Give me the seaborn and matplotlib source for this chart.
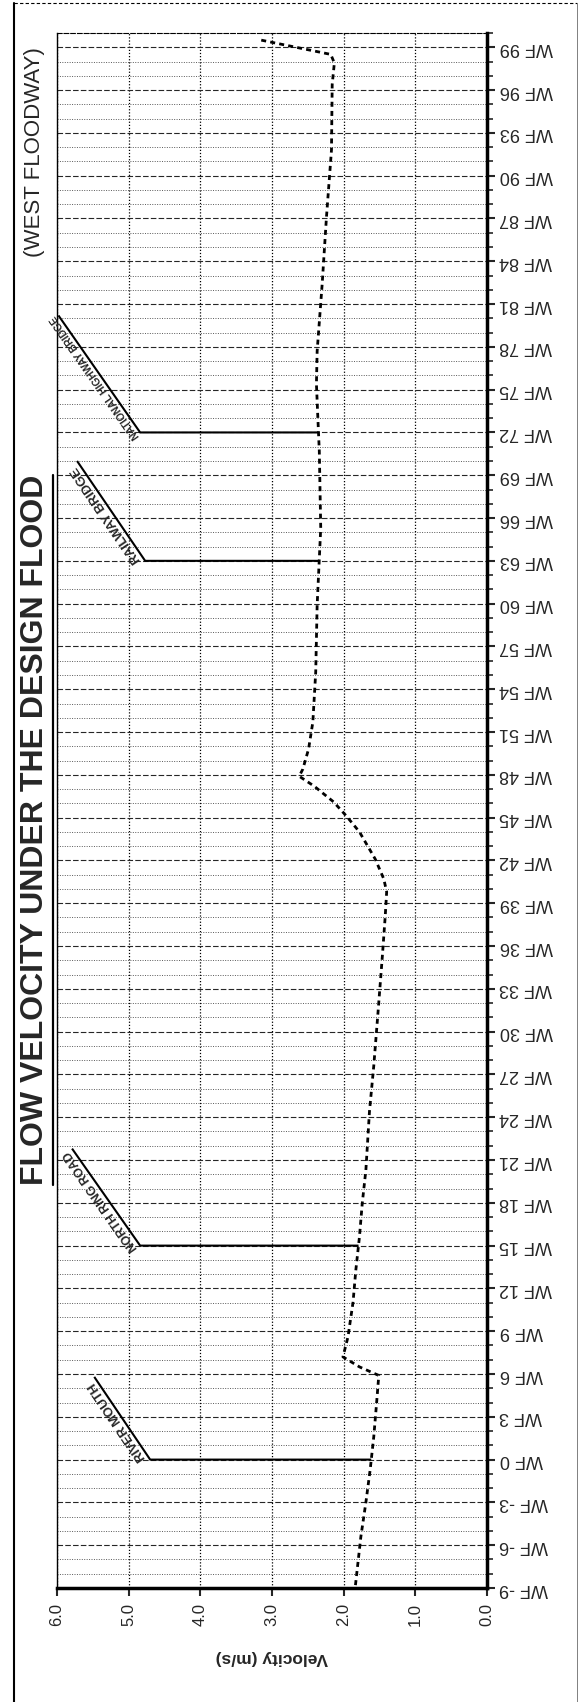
import matplotlib
matplotlib.use('Agg')
import matplotlib.pyplot as plt
from matplotlib.lines import Line2D
from matplotlib.ticker import MultipleLocator
import numpy as np
import pandas as pd
import seaborn as sns

# velocity profile along the west floodway (station -> m/s)
stations = [99.5, 98.5, 97.9, 96.4, 91.8, 87.1, 82.4, 77.7, 75.4, 73.0, 70.7, 65.3,
            59.9, 55.2, 51.7, 49.8, 48.4, 47.9, 47.2, 46.1, 45.1, 44.0, 42.1, 40.7,
            39.8, 38.1, 35.3, 31.4, 27.6, 24.4, 20.3, 18.0, 15.6, 13.3, 11.0, 8.6,
            7.2, 6.5, 5.9, 4.0, 1.6, -0.7, -3.0, -5.4, -7.2, -9.0]
velocity = [3.15, 2.18, 2.13, 2.16, 2.17, 2.24, 2.30, 2.37, 2.38, 2.36, 2.34, 2.32,
            2.37, 2.39, 2.43, 2.49, 2.57, 2.62, 2.41, 2.14, 1.96, 1.78, 1.56, 1.44,
            1.40, 1.42, 1.46, 1.52, 1.58, 1.64, 1.69, 1.74, 1.78, 1.83, 1.87, 1.94,
            2.01, 1.78, 1.51, 1.54, 1.58, 1.63, 1.69, 1.76, 1.80, 1.84]

bridge_names = ['RIVER MOUTH', 'NORTH RING ROAD', 'RAILWAY BRIDGE', 'NATIONAL HIGHWAY BRIDGE']
bridge_stations = [0, 15, 63, 72]

tick_stations = list(range(-9, 100, 3))
tick_labels = [f'WF {s}' for s in tick_stations]
vel_ticks = [0, 1, 2, 3, 4, 5, 6]
vel_labels = ['0.0', '1.0', '2.0', '3.0', '4.0', '5.0', '6.0']

# leader line geometry for the bridge call-outs (velocity of kink, length along axes)
lead_v = [4.70, 4.84, 4.77, 4.84]
lead_dv = [0.78, 0.95, 0.95, 1.14]
lead_ds = [5.8, 6.8, 7.0, 8.2]
lead_size = [9.5, 9, 9.5, 7.5]

sns.set_style('white')
plt.rcParams['font.family'] = ['Liberation Sans', 'DejaVu Sans']

W, H = 579, 1702
fig = plt.figure(figsize=(W / 100, H / 100), dpi=100)
ax = fig.add_axes([57 / W, 1 - 1588 / H, 430 / W, 1555 / H])

df = pd.DataFrame({'station': stations, 'velocity': velocity})
sns.lineplot(data=df, x='velocity', y='station', sort=False, estimator=None,
             color='black', lw=2.0, ax=ax)
ax.lines[0].set_linestyle((0, (1.8, 1.5)))

ax.set_xlim(6, 0)
ax.set_ylim(-9, 100)

ax.set_xticks(vel_ticks)
ax.set_xticklabels(vel_labels, rotation=90, fontsize=12)
ax.yaxis.tick_right()
ax.set_yticks(tick_stations)
ax.set_yticklabels(tick_labels, rotation=180, fontsize=13, va='center')
ax.yaxis.set_minor_locator(MultipleLocator(1))
ax.tick_params(axis='y', which='major', direction='out', length=6, width=1.5, pad=3)
ax.tick_params(axis='y', which='minor', direction='out', length=4, width=1.2, right=True)
ax.tick_params(axis='x', which='major', direction='out', length=6, width=1.5, pad=5, bottom=True)
ax.set_xlabel('')
ax.set_ylabel('')

ax.grid(which='major', axis='x', color='black', lw=0.9, ls=(0, (1, 1.5)))
ax.grid(which='major', axis='y', color='0.15', lw=0.8, ls=(0, (5, 2)))
ax.grid(which='minor', axis='y', color='0.35', lw=0.7, ls=(0, (1, 1.5)))

for side in ['right', 'bottom']:
    ax.spines[side].set_linewidth(2.5)
ax.spines['left'].set_linewidth(1.0)
ax.spines['top'].set_linewidth(0.8)
ax.spines['top'].set_linestyle((0, (4, 2)))
for sp in ax.spines.values():
    sp.set_color('black')
    sp.set_visible(True)

# bridge call-outs
s_sorted = np.array(stations[::-1])
v_sorted = np.array(velocity[::-1])
for name, s, vj, dv, ds, fs in zip(bridge_names, bridge_stations, lead_v, lead_dv, lead_ds, lead_size):
    vc = np.interp(s, s_sorted, v_sorted)
    vt = vj + dv
    ax.plot([vc, vj, vt], [s, s, s + ds], color='black', lw=1.5, solid_capstyle='butt')
    p0 = ax.transData.transform((vj, s))
    p1 = ax.transData.transform((vt, s + ds))
    ang = np.degrees(np.arctan2(p1[1] - p0[1], p1[0] - p0[0]))
    ax.text((vj + vt) / 2, s + ds / 2, name, rotation=ang, rotation_mode='anchor',
            ha='center', va='bottom', fontsize=fs, fontweight='bold')

title = fig.text(35 / W, 1 - 830 / H, 'FLOW VELOCITY UNDER THE DESIGN FLOOD',
                 rotation=90, ha='center', va='center', fontsize=23, fontweight='bold')
fig.text(35 / W, 1 - 152 / H, '(WEST FLOODWAY)', rotation=90, ha='center', va='center',
         fontsize=16)
fig.text((57 + 430 / 2) / W, 1 - 1657 / H, 'Velocity (m/s)', rotation=180,
         ha='center', va='center', fontsize=12.5, fontweight='bold')

# underline of the title (on its right side, since it is rotated)
fig.canvas.draw()
bb = title.get_window_extent()
ux = (bb.x1 + 3) / W
fig.add_artist(Line2D([ux, ux], [bb.y0 / H, bb.y1 / H], color='black', lw=1.6))

# page frame from the scan
fig.add_artist(Line2D([14 / W, 14 / W], [0, 1 - 3 / H], color='black', lw=1.5))
fig.add_artist(Line2D([14 / W, 577 / W], [1 - 3 / H, 1 - 3 / H], color='black', lw=0.8,
                      ls=(0, (3, 2))))
fig.add_artist(Line2D([577 / W, 577 / W], [0, 1 - 3 / H], color='0.5', lw=0.7))

fig.savefig('out.png', dpi=100)
